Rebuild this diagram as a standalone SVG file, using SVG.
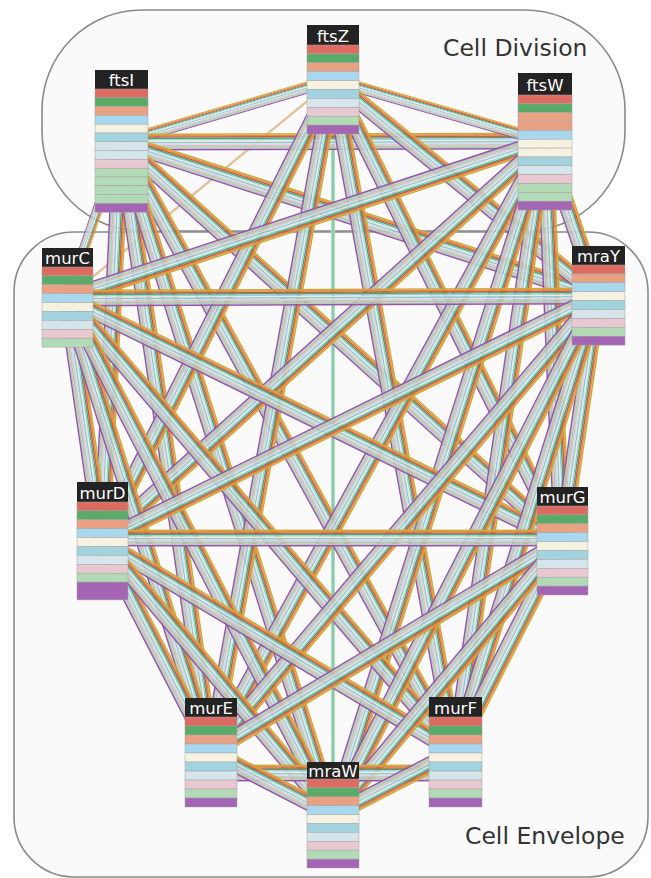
<svg xmlns="http://www.w3.org/2000/svg" width="651" height="878" viewBox="0 0 651 878">
<style>
.box{fill:#fafafa;stroke:#8a8a8a;stroke-width:1.6}
.lbl{font-family:"DejaVu Sans",sans-serif;font-size:23.5px;fill:#333}
.hd{fill:#232323}
.ht{font-family:"DejaVu Sans",sans-serif;font-size:16.5px;fill:#fff;text-anchor:middle}
.node rect.s{stroke:#a3a3a3;stroke-width:0.5}
.r{fill:#dc6b61}.g{fill:#5aab67}.sa{fill:#e8a283}.lb{fill:#a9d8ee}.c{fill:#f6f2e2}.t{fill:#a2d3de}.p{fill:#d6e5ec}.pk{fill:#e9c9d1}.lg{fill:#b3dab6}.pu{fill:#a465b5}
</style>
<defs>
<g id="rib">
<rect x="0" y="-8.4" width="1" height="1.45" fill="#c6ae3c"/>
<rect x="0" y="-7" width="1" height="1.45" fill="#e8903a"/>
<rect x="0" y="-5.6" width="1" height="1.45" fill="#d9544e"/>
<rect x="0" y="-4.2" width="1" height="1.45" fill="#4fa65a"/>
<rect x="0" y="-2.8" width="1" height="1.45" fill="#94cfe9"/>
<rect x="0" y="-1.4" width="1" height="1.45" fill="#f1ebd2"/>
<rect x="0" y="0" width="1" height="1.45" fill="#8cc8d6"/>
<rect x="0" y="1.4" width="1" height="1.45" fill="#cfe1ea"/>
<rect x="0" y="2.8" width="1" height="1.45" fill="#e6bcc8"/>
<rect x="0" y="4.2" width="1" height="1.45" fill="#a3d3a8"/>
<rect x="0" y="5.6" width="1" height="1.45" fill="#c4c4c4"/>
<rect x="0" y="7" width="1" height="1.45" fill="#9456ab"/>
</g>
</defs>
<rect width="651" height="878" fill="#fff"/>
<g id="groups">
<rect class="box" x="42" y="10" width="583" height="221" rx="100" ry="100"/>
<rect class="box" x="14" y="232" width="634" height="645" rx="60" ry="60"/>
<text class="lbl" x="443" y="56">Cell Division</text>
<text class="lbl" x="465" y="844">Cell Envelope</text>
</g>
<g id="connectors">
<line x1="333" y1="80" x2="67" y2="298" stroke="#e3c39b" stroke-width="2.5"/>
<line x1="333" y1="80" x2="333" y2="815" stroke="#a9dcc8" stroke-width="4"/>
<line x1="333" y1="80" x2="333" y2="815" stroke="#7fbf8e" stroke-width="1.2"/>
<use href="#rib" transform="matrix(212 -62 0.197 0.672 121 142)"/>
<use href="#rib" transform="matrix(424 -1 0.002 1 121 142)"/>
<use href="#rib" transform="matrix(-54 156 -0.567 -0.196 121 142)"/>
<use href="#rib" transform="matrix(477 154 -0.307 0.952 121 142)"/>
<use href="#rib" transform="matrix(-19 399 -0.999 -0.048 121 142)"/>
<use href="#rib" transform="matrix(441 399 -0.671 0.742 121 142)"/>
<use href="#rib" transform="matrix(90 610 -0.989 0.146 121 142)"/>
<use href="#rib" transform="matrix(334 610 -0.877 0.480 121 142)"/>
<use href="#rib" transform="matrix(212 673 -0.954 0.300 121 142)"/>
<use href="#rib" transform="matrix(212 61 -0.194 0.673 333 80)"/>
<use href="#rib" transform="matrix(265 216 -0.632 0.775 333 80)"/>
<use href="#rib" transform="matrix(-231 461 -0.894 -0.448 333 80)"/>
<use href="#rib" transform="matrix(229 461 -0.896 0.445 333 80)"/>
<use href="#rib" transform="matrix(-122 672 -0.984 -0.179 333 80)"/>
<use href="#rib" transform="matrix(122 672 -0.984 0.179 333 80)"/>
<use href="#rib" transform="matrix(-478 157 -0.312 -0.950 545 141)"/>
<use href="#rib" transform="matrix(53 155 -0.946 0.324 545 141)"/>
<use href="#rib" transform="matrix(-443 400 -0.670 -0.742 545 141)"/>
<use href="#rib" transform="matrix(17 400 -0.999 0.042 545 141)"/>
<use href="#rib" transform="matrix(-334 611 -0.877 -0.480 545 141)"/>
<use href="#rib" transform="matrix(-90 611 -0.989 -0.146 545 141)"/>
<use href="#rib" transform="matrix(-212 674 -0.954 -0.300 545 141)"/>
<use href="#rib" transform="matrix(531 -2 0.004 1 67 298)"/>
<use href="#rib" transform="matrix(35 243 -0.990 0.143 67 298)"/>
<use href="#rib" transform="matrix(495 243 -0.441 0.898 67 298)"/>
<use href="#rib" transform="matrix(144 454 -0.953 0.302 67 298)"/>
<use href="#rib" transform="matrix(388 454 -0.760 0.650 67 298)"/>
<use href="#rib" transform="matrix(266 517 -0.889 0.458 67 298)"/>
<use href="#rib" transform="matrix(-496 245 -0.443 -0.897 598 296)"/>
<use href="#rib" transform="matrix(-36 245 -0.989 -0.145 598 296)"/>
<use href="#rib" transform="matrix(-387 456 -0.762 -0.647 598 296)"/>
<use href="#rib" transform="matrix(-143 456 -0.954 -0.299 598 296)"/>
<use href="#rib" transform="matrix(-265 519 -0.891 -0.455 598 296)"/>
<use href="#rib" transform="matrix(460 0 0 1 102 538)"/>
<use href="#rib" transform="matrix(109 211 -0.888 0.459 102 541)"/>
<use href="#rib" transform="matrix(353 211 -0.513 0.858 102 541)"/>
<use href="#rib" transform="matrix(231 274 -0.765 0.645 102 541)"/>
<use href="#rib" transform="matrix(-351 211 -0.515 -0.857 562 541)"/>
<use href="#rib" transform="matrix(-107 211 -0.892 -0.452 562 541)"/>
<use href="#rib" transform="matrix(-229 274 -0.767 -0.641 562 541)"/>
<use href="#rib" transform="matrix(244 0 0 1 211 773)"/>
<use href="#rib" transform="matrix(122 63 -0.459 0.889 211 752)"/>
<use href="#rib" transform="matrix(-122 63 -0.459 -0.889 455 752)"/>
</g>
<g id="ftsI" class="node">
<rect class="hd" x="95" y="70" width="53" height="19"/>
<text class="ht" x="121.5" y="85.5">ftsI</text>
<rect class="s r" x="95" y="89" width="53" height="8.8"/>
<rect class="s g" x="95" y="97.8" width="53" height="8.8"/>
<rect class="s sa" x="95" y="106.6" width="53" height="8.8"/>
<rect class="s lb" x="95" y="115.4" width="53" height="8.8"/>
<rect class="s c" x="95" y="124.2" width="53" height="8.8"/>
<rect class="s t" x="95" y="133" width="53" height="8.8"/>
<rect class="s p" x="95" y="141.8" width="53" height="8.8"/>
<rect class="s p" x="95" y="150.6" width="53" height="8.8"/>
<rect class="s pk" x="95" y="159.4" width="53" height="8.8"/>
<rect class="s lg" x="95" y="168.2" width="53" height="8.8"/>
<rect class="s lg" x="95" y="177" width="53" height="8.8"/>
<rect class="s lg" x="95" y="185.8" width="53" height="8.8"/>
<rect class="s lg" x="95" y="194.6" width="53" height="8.8"/>
<rect class="s pu" x="95" y="203.4" width="53" height="8.8"/>
</g>
<g id="ftsZ" class="node">
<rect class="hd" x="307" y="25" width="52" height="20"/>
<text class="ht" x="333" y="41.5">ftsZ</text>
<rect class="s r" x="307" y="45" width="52" height="8.9"/>
<rect class="s g" x="307" y="53.9" width="52" height="8.9"/>
<rect class="s sa" x="307" y="62.8" width="52" height="8.9"/>
<rect class="s lb" x="307" y="71.7" width="52" height="8.9"/>
<rect class="s c" x="307" y="80.6" width="52" height="8.9"/>
<rect class="s t" x="307" y="89.5" width="52" height="8.9"/>
<rect class="s p" x="307" y="98.4" width="52" height="8.9"/>
<rect class="s pk" x="307" y="107.3" width="52" height="8.9"/>
<rect class="s lg" x="307" y="116.2" width="52" height="8.9"/>
<rect class="s pu" x="307" y="125.1" width="52" height="8.9"/>
</g>
<g id="ftsW" class="node">
<rect class="hd" x="518" y="73" width="54" height="22"/>
<text class="ht" x="545" y="90.5">ftsW</text>
<rect class="s r" x="518" y="95" width="54" height="8.85"/>
<rect class="s g" x="518" y="103.85" width="54" height="8.85"/>
<rect class="s sa" x="518" y="112.7" width="54" height="8.85"/>
<rect class="s sa" x="518" y="121.55" width="54" height="8.85"/>
<rect class="s lb" x="518" y="130.4" width="54" height="8.85"/>
<rect class="s c" x="518" y="139.25" width="54" height="8.85"/>
<rect class="s c" x="518" y="148.1" width="54" height="8.85"/>
<rect class="s t" x="518" y="156.95" width="54" height="8.85"/>
<rect class="s p" x="518" y="165.8" width="54" height="8.85"/>
<rect class="s pk" x="518" y="174.65" width="54" height="8.85"/>
<rect class="s lg" x="518" y="183.5" width="54" height="8.85"/>
<rect class="s lg" x="518" y="192.35" width="54" height="8.85"/>
<rect class="s pu" x="518" y="201.2" width="54" height="8.85"/>
</g>
<g id="murC" class="node">
<rect class="hd" x="42" y="248" width="51" height="19"/>
<text class="ht" x="67.5" y="263.5">murC</text>
<rect class="s r" x="42" y="267" width="51" height="8.9"/>
<rect class="s g" x="42" y="275.9" width="51" height="8.9"/>
<rect class="s sa" x="42" y="284.8" width="51" height="8.9"/>
<rect class="s lb" x="42" y="293.7" width="51" height="8.9"/>
<rect class="s c" x="42" y="302.6" width="51" height="8.9"/>
<rect class="s t" x="42" y="311.5" width="51" height="8.9"/>
<rect class="s p" x="42" y="320.4" width="51" height="8.9"/>
<rect class="s pk" x="42" y="329.3" width="51" height="8.9"/>
<rect class="s lg" x="42" y="338.2" width="51" height="8.9"/>
</g>
<g id="mraY" class="node">
<rect class="hd" x="572" y="246" width="53" height="19"/>
<text class="ht" x="598.5" y="261.5">mraY</text>
<rect class="s r" x="572" y="265" width="53" height="8.9"/>
<rect class="s sa" x="572" y="273.9" width="53" height="8.9"/>
<rect class="s lb" x="572" y="282.8" width="53" height="8.9"/>
<rect class="s c" x="572" y="291.7" width="53" height="8.9"/>
<rect class="s t" x="572" y="300.6" width="53" height="8.9"/>
<rect class="s p" x="572" y="309.5" width="53" height="8.9"/>
<rect class="s pk" x="572" y="318.4" width="53" height="8.9"/>
<rect class="s lg" x="572" y="327.3" width="53" height="8.9"/>
<rect class="s pu" x="572" y="336.2" width="53" height="8.9"/>
</g>
<g id="murD" class="node">
<rect class="hd" x="77" y="482" width="51" height="20"/>
<text class="ht" x="102.5" y="498.5">murD</text>
<rect class="s r" x="77" y="502" width="51" height="8.9"/>
<rect class="s g" x="77" y="510.9" width="51" height="8.9"/>
<rect class="s sa" x="77" y="519.8" width="51" height="8.9"/>
<rect class="s lb" x="77" y="528.7" width="51" height="8.9"/>
<rect class="s c" x="77" y="537.6" width="51" height="8.9"/>
<rect class="s t" x="77" y="546.5" width="51" height="8.9"/>
<rect class="s p" x="77" y="555.4" width="51" height="8.9"/>
<rect class="s pk" x="77" y="564.3" width="51" height="8.9"/>
<rect class="s lg" x="77" y="573.2" width="51" height="8.9"/>
<rect class="s pu" x="77" y="582.1" width="51" height="17.8"/>
</g>
<g id="murG" class="node">
<rect class="hd" x="537" y="487" width="51" height="19"/>
<text class="ht" x="562.5" y="502.5">murG</text>
<rect class="s r" x="537" y="506" width="51" height="8.9"/>
<rect class="s g" x="537" y="514.9" width="51" height="8.9"/>
<rect class="s sa" x="537" y="523.8" width="51" height="8.9"/>
<rect class="s lb" x="537" y="532.7" width="51" height="8.9"/>
<rect class="s c" x="537" y="541.6" width="51" height="8.9"/>
<rect class="s t" x="537" y="550.5" width="51" height="8.9"/>
<rect class="s p" x="537" y="559.4" width="51" height="8.9"/>
<rect class="s pk" x="537" y="568.3" width="51" height="8.9"/>
<rect class="s lg" x="537" y="577.2" width="51" height="8.9"/>
<rect class="s pu" x="537" y="586.1" width="51" height="8.9"/>
</g>
<g id="murE" class="node">
<rect class="hd" x="185" y="698" width="52" height="19"/>
<text class="ht" x="211" y="713.5">murE</text>
<rect class="s r" x="185" y="717" width="52" height="9"/>
<rect class="s g" x="185" y="726" width="52" height="9"/>
<rect class="s sa" x="185" y="735" width="52" height="9"/>
<rect class="s lb" x="185" y="744" width="52" height="9"/>
<rect class="s c" x="185" y="753" width="52" height="9"/>
<rect class="s t" x="185" y="762" width="52" height="9"/>
<rect class="s p" x="185" y="771" width="52" height="9"/>
<rect class="s pk" x="185" y="780" width="52" height="9"/>
<rect class="s lg" x="185" y="789" width="52" height="9"/>
<rect class="s pu" x="185" y="798" width="52" height="9"/>
</g>
<g id="murF" class="node">
<rect class="hd" x="429" y="697" width="53" height="20"/>
<text class="ht" x="455.5" y="713.5">murF</text>
<rect class="s r" x="429" y="717" width="53" height="9"/>
<rect class="s g" x="429" y="726" width="53" height="9"/>
<rect class="s sa" x="429" y="735" width="53" height="9"/>
<rect class="s lb" x="429" y="744" width="53" height="9"/>
<rect class="s c" x="429" y="753" width="53" height="9"/>
<rect class="s t" x="429" y="762" width="53" height="9"/>
<rect class="s p" x="429" y="771" width="53" height="9"/>
<rect class="s pk" x="429" y="780" width="53" height="9"/>
<rect class="s lg" x="429" y="789" width="53" height="9"/>
<rect class="s pu" x="429" y="798" width="53" height="9"/>
</g>
<g id="mraW" class="node">
<rect class="hd" x="307" y="762" width="52" height="17"/>
<text class="ht" x="333" y="776.5">mraW</text>
<rect class="s r" x="307" y="779" width="52" height="8.9"/>
<rect class="s g" x="307" y="787.9" width="52" height="8.9"/>
<rect class="s sa" x="307" y="796.8" width="52" height="8.9"/>
<rect class="s lb" x="307" y="805.7" width="52" height="8.9"/>
<rect class="s c" x="307" y="814.6" width="52" height="8.9"/>
<rect class="s t" x="307" y="823.5" width="52" height="8.9"/>
<rect class="s p" x="307" y="832.4" width="52" height="8.9"/>
<rect class="s pk" x="307" y="841.3" width="52" height="8.9"/>
<rect class="s lg" x="307" y="850.2" width="52" height="8.9"/>
<rect class="s pu" x="307" y="859.1" width="52" height="8.9"/>
</g>
</svg>
